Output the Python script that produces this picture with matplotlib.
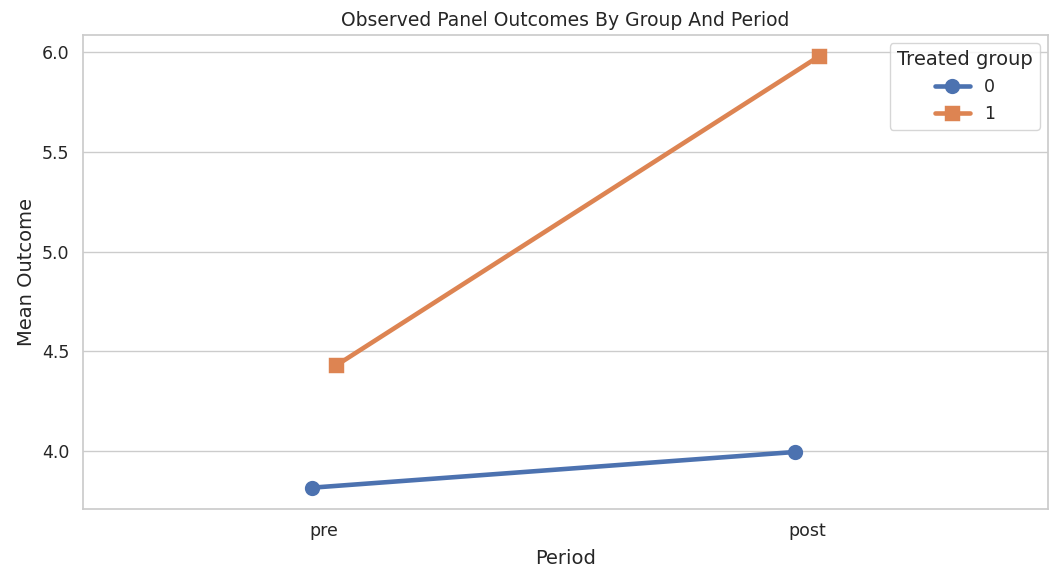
import pandas as pd
import seaborn as sns
import matplotlib.pyplot as plt

periods = ["pre", "post", "pre", "post"]
groups = [0, 0, 1, 1]
outcome = [3.817, 3.996, 4.43, 5.98]

df = pd.DataFrame({"period": periods, "treated": groups, "y": outcome})

sns.set_theme(style="whitegrid")
fig, ax = plt.subplots(figsize=(10.6, 5.8), dpi=100)
sns.pointplot(data=df, x="period", y="y", hue="treated", order=["pre", "post"],
              markers=["o", "s"], dodge=True, errorbar=None, ax=ax,
              linewidth=3.3, markersize=8.5)
ax.set_title("Observed Panel Outcomes By Group And Period", fontsize=13.5)
ax.set_xlabel("Period", fontsize=14, labelpad=6)
ax.set_ylabel("Mean Outcome", fontsize=14)
ax.tick_params(labelsize=12.5)
ax.legend(title="Treated group", loc="upper right", fontsize=12.5, title_fontsize=14)
fig.subplots_adjust(left=0.078, right=0.989, top=0.94, bottom=0.122)
fig.savefig("out.png")
